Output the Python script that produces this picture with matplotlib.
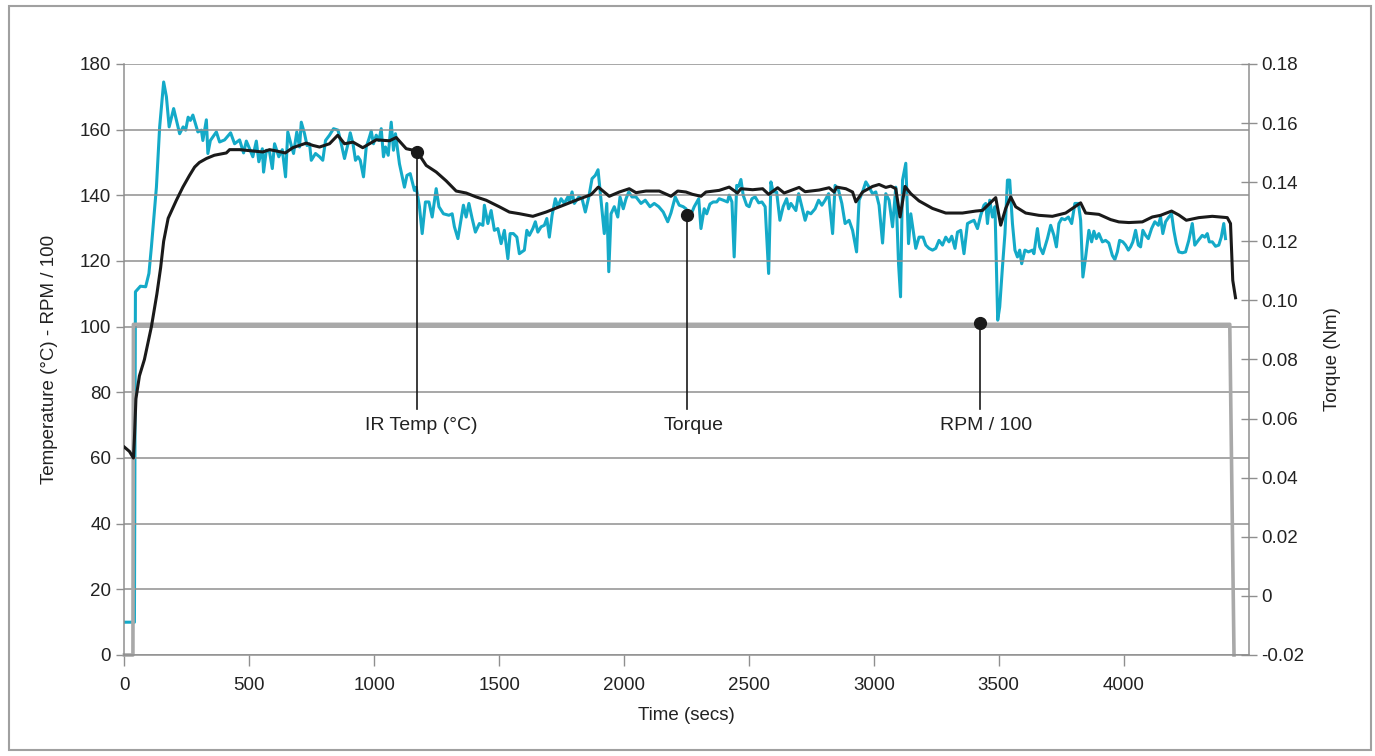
import matplotlib
matplotlib.use("Agg")
import matplotlib.pyplot as plt
from matplotlib.patches import Rectangle

plt.rcParams['font.family'] = ['Liberation Sans', 'DejaVu Sans']

# ---- data ----
# IR temperature (deg C), left axis
temp_time = [0, 20, 36, 40, 46, 60, 80, 108, 130, 145,
             157, 175, 208, 234, 260, 281, 300, 328, 360, 408,
             421, 461, 514, 554, 581, 608, 644, 674, 728, 754,
             781, 821, 854, 881, 915, 954, 981, 1008, 1061, 1088,
             1128, 1170, 1208, 1248, 1288, 1328, 1368, 1408, 1448, 1501,
             1541, 1581, 1635, 1688, 1741, 1808, 1868, 1897, 1941, 1981,
             2021, 2048, 2088, 2141, 2188, 2215, 2248, 2274, 2308, 2328,
             2381, 2421, 2454, 2468, 2515, 2555, 2579, 2615, 2641, 2701,
             2725, 2781, 2821, 2841, 2851, 2888, 2915, 2928, 2955, 2995,
             3021, 3048, 3068, 3088, 3105, 3125, 3148, 3181, 3235, 3288,
             3355, 3408, 3435, 3461, 3488, 3508, 3528, 3548, 3568, 3608,
             3661, 3715, 3768, 3828, 3848, 3901, 3948, 3981, 4021, 4075,
             4115, 4148, 4192, 4221, 4251, 4301, 4355, 4415, 4428, 4437,
             4448]
temp_c = [63.3, 62.0, 60.0, 66.0, 78.0, 85.0, 90.0, 100.0, 110.0, 118.0,
          126.0, 133.0, 138.5, 142.5, 146.0, 148.6, 150.0, 151.2, 152.2, 152.9,
          153.9, 153.9, 153.5, 153.2, 153.9, 153.5, 152.9, 154.5, 155.9, 155.2,
          154.7, 155.7, 158.3, 155.7, 156.2, 154.5, 155.7, 156.9, 156.6, 157.6,
          154.2, 153.5, 149.1, 147.1, 144.4, 141.3, 140.7, 139.5, 138.5, 136.5,
          134.9, 134.4, 133.6, 134.9, 136.5, 138.5, 140.2, 142.5, 139.7, 141.0,
          142.0, 140.8, 141.3, 141.3, 139.7, 141.3, 141.0, 140.3, 139.7, 141.0,
          141.5, 142.5, 140.7, 142.0, 141.7, 142.0, 140.3, 142.3, 140.7, 142.4,
          141.1, 141.6, 142.3, 141.0, 142.5, 142.0, 141.0, 138.0, 141.0, 142.7,
          143.3, 142.4, 142.8, 142.0, 133.4, 142.7, 140.5, 138.3, 136.0, 134.6,
          134.6, 135.2, 135.4, 137.3, 139.3, 130.9, 136.0, 139.5, 136.5, 134.6,
          133.9, 133.6, 134.6, 137.7, 134.6, 134.2, 132.6, 131.9, 131.7, 131.9,
          133.4, 133.9, 135.2, 134.0, 132.4, 133.2, 133.6, 133.2, 131.4, 114.1,
          108.8]

# torque (Nm), right axis
torque_time = [0, 40, 44, 64, 85, 98, 108, 117, 128, 141,
               157, 168, 179, 197, 221, 235, 245, 255, 264, 274,
               294, 308, 314, 328, 334, 344, 368, 381, 401, 425,
               441, 461, 477, 488, 501, 514, 528, 538, 552, 557,
               568, 581, 592, 601, 618, 632, 645, 654, 668, 677,
               690, 701, 708, 721, 731, 741, 748, 765, 781, 794,
               805, 821, 837, 855, 868, 881, 895, 904, 915, 925,
               935, 944, 957, 968, 979, 988, 997, 1008, 1019, 1028,
               1037, 1045, 1056, 1068, 1077, 1085, 1101, 1121, 1131, 1144,
               1161, 1168, 1181, 1192, 1205, 1219, 1232, 1248, 1259, 1277,
               1299, 1312, 1321, 1335, 1348, 1357, 1368, 1379, 1392, 1405,
               1421, 1435, 1441, 1455, 1468, 1481, 1495, 1508, 1521, 1535,
               1544, 1557, 1571, 1581, 1601, 1611, 1621, 1635, 1645, 1655,
               1668, 1681, 1691, 1701, 1712, 1725, 1735, 1748, 1761, 1775,
               1781, 1792, 1801, 1819, 1832, 1845, 1859, 1872, 1885, 1896,
               1908, 1921, 1931, 1939, 1948, 1961, 1975, 1984, 1997, 2008,
               2019, 2032, 2048, 2068, 2085, 2104, 2121, 2139, 2157, 2175,
               2188, 2205, 2221, 2237, 2248, 2264, 2281, 2299, 2308, 2321,
               2331, 2344, 2357, 2371, 2381, 2397, 2414, 2421, 2432, 2441,
               2451, 2459, 2468, 2477, 2491, 2501, 2512, 2525, 2539, 2552,
               2565, 2579, 2588, 2597, 2611, 2624, 2637, 2651, 2659, 2668,
               2677, 2688, 2699, 2712, 2725, 2735, 2748, 2765, 2779, 2792,
               2805, 2819, 2835, 2845, 2859, 2872, 2885, 2901, 2915, 2931,
               2941, 2955, 2968, 2981, 2995, 3008, 3021, 3035, 3048, 3061,
               3075, 3088, 3099, 3107, 3115, 3128, 3139, 3148, 3168, 3181,
               3197, 3208, 3221, 3235, 3248, 3261, 3275, 3288, 3301, 3312,
               3325, 3335, 3348, 3361, 3375, 3388, 3401, 3415, 3428, 3441,
               3448, 3455, 3464, 3475, 3485, 3491, 3496, 3504, 3515, 3525,
               3535, 3544, 3555, 3565, 3575, 3584, 3592, 3605, 3619, 3635,
               3641, 3655, 3664, 3677, 3695, 3708, 3721, 3731, 3741, 3752,
               3765, 3779, 3792, 3805, 3819, 3828, 3837, 3848, 3861, 3872,
               3881, 3891, 3901, 3915, 3928, 3941, 3955, 3965, 3975, 3984,
               3997, 4008, 4019, 4028, 4037, 4048, 4059, 4068, 4077, 4088,
               4099, 4112, 4125, 4139, 4148, 4157, 4168, 4181, 4192, 4201,
               4211, 4221, 4235, 4248, 4261, 4275, 4285, 4299, 4315, 4325,
               4335, 4343, 4355, 4368, 4381, 4391, 4401, 4408]
torque_nm = [-0.0089, -0.0089, 0.1029, 0.1048, 0.1046, 0.1091, 0.1181, 0.1271, 0.1383, 0.1587,
             0.1739, 0.1689, 0.1587, 0.1649, 0.1564, 0.1587, 0.1576, 0.1620, 0.1609, 0.1627,
             0.1570, 0.1576, 0.1541, 0.1611, 0.1497, 0.1541, 0.1570, 0.1536, 0.1543, 0.1567,
             0.1530, 0.1543, 0.1499, 0.1539, 0.1513, 0.1486, 0.1539, 0.1469, 0.1513, 0.1434,
             0.1508, 0.1502, 0.1446, 0.1530, 0.1486, 0.1510, 0.1418, 0.1570, 0.1524, 0.1497,
             0.1570, 0.1519, 0.1603, 0.1564, 0.1524, 0.1530, 0.1474, 0.1497, 0.1486, 0.1474,
             0.1541, 0.1559, 0.1581, 0.1576, 0.1530, 0.1480, 0.1530, 0.1567, 0.1530, 0.1474,
             0.1486, 0.1474, 0.1418, 0.1519, 0.1547, 0.1573, 0.1530, 0.1559, 0.1541, 0.1581,
             0.1486, 0.1519, 0.1491, 0.1603, 0.1508, 0.1564, 0.1462, 0.1383, 0.1423, 0.1429,
             0.1372, 0.1383, 0.1317, 0.1226, 0.1333, 0.1333, 0.1282, 0.1378, 0.1317, 0.1293,
             0.1288, 0.1293, 0.1249, 0.1209, 0.1277, 0.1322, 0.1282, 0.1328, 0.1277, 0.1231,
             0.1260, 0.1254, 0.1322, 0.1260, 0.1304, 0.1237, 0.1243, 0.1192, 0.1237, 0.1141,
             0.1226, 0.1226, 0.1214, 0.1158, 0.1170, 0.1237, 0.1220, 0.1243, 0.1266, 0.1231,
             0.1249, 0.1254, 0.1277, 0.1214, 0.1288, 0.1344, 0.1317, 0.1344, 0.1328, 0.1350,
             0.1333, 0.1367, 0.1328, 0.1350, 0.1344, 0.1299, 0.1350, 0.1412, 0.1423, 0.1442,
             0.1339, 0.1226, 0.1328, 0.1097, 0.1293, 0.1317, 0.1282, 0.1350, 0.1310, 0.1344,
             0.1367, 0.1350, 0.1350, 0.1328, 0.1339, 0.1317, 0.1328, 0.1317, 0.1299, 0.1266,
             0.1296, 0.1350, 0.1322, 0.1317, 0.1310, 0.1282, 0.1317, 0.1344, 0.1243, 0.1310,
             0.1293, 0.1326, 0.1333, 0.1333, 0.1344, 0.1339, 0.1333, 0.1356, 0.1333, 0.1147,
             0.1389, 0.1386, 0.1409, 0.1356, 0.1322, 0.1317, 0.1344, 0.1350, 0.1330, 0.1333,
             0.1317, 0.1091, 0.1401, 0.1367, 0.1367, 0.1271, 0.1317, 0.1344, 0.1310, 0.1328,
             0.1317, 0.1304, 0.1361, 0.1317, 0.1271, 0.1299, 0.1293, 0.1310, 0.1339, 0.1322,
             0.1339, 0.1361, 0.1226, 0.1389, 0.1372, 0.1328, 0.1260, 0.1271, 0.1237, 0.1164,
             0.1339, 0.1367, 0.1401, 0.1383, 0.1361, 0.1367, 0.1322, 0.1194, 0.1361, 0.1339,
             0.1249, 0.1383, 0.1124, 0.1012, 0.1407, 0.1464, 0.1192, 0.1293, 0.1176, 0.1214,
             0.1214, 0.1187, 0.1176, 0.1170, 0.1176, 0.1203, 0.1187, 0.1214, 0.1198, 0.1217,
             0.1176, 0.1231, 0.1237, 0.1158, 0.1260, 0.1266, 0.1271, 0.1243, 0.1288, 0.1322,
             0.1328, 0.1260, 0.1339, 0.1282, 0.1317, 0.1113, 0.0933, 0.0978, 0.1113, 0.1226,
             0.1407, 0.1407, 0.1260, 0.1170, 0.1147, 0.1170, 0.1124, 0.1170, 0.1164, 0.1170,
             0.1158, 0.1243, 0.1181, 0.1158, 0.1209, 0.1254, 0.1220, 0.1181, 0.1260, 0.1277,
             0.1273, 0.1282, 0.1260, 0.1328, 0.1328, 0.1271, 0.1079, 0.1147, 0.1237, 0.1198,
             0.1234, 0.1209, 0.1226, 0.1198, 0.1203, 0.1194, 0.1152, 0.1138, 0.1164, 0.1203,
             0.1198, 0.1187, 0.1170, 0.1181, 0.1198, 0.1237, 0.1187, 0.1181, 0.1237, 0.1220,
             0.1209, 0.1243, 0.1266, 0.1254, 0.1282, 0.1226, 0.1266, 0.1282, 0.1293, 0.1237,
             0.1192, 0.1164, 0.1161, 0.1164, 0.1203, 0.1260, 0.1187, 0.1203, 0.1220, 0.1214,
             0.1226, 0.1198, 0.1198, 0.1183, 0.1187, 0.1214, 0.1260, 0.1209]

# spindle speed (RPM / 100), left axis
rpm_time = [0, 34, 36, 4425, 4442]
rpm_div100 = [0, 0, 100.7, 100.7, 0]

# callouts: label, time, value on left axis, label x
callout_labels = ['IR Temp (°C)', 'Torque', 'RPM / 100']
callout_time = [1170, 2253, 3425]
callout_value = [153.3, 133.9, 101.0]
callout_text_x = [1190, 2278, 3450]

CYAN = '#14aac8'
BLACK = '#1a1a1a'
GREY = '#a9a9a9'
AXIS_GREY = '#8f8f8f'

fig = plt.figure(figsize=(13.75, 7.56), dpi=100)
ax = fig.add_axes([0.0905, 0.1336, 0.8175, 0.7818])
ax2 = ax.twinx()

# left axis
ax.set_xlim(0, 4500)
ax.set_ylim(0, 180)
ax.set_yticks(range(0, 181, 20))
ax.set_xticks(range(0, 4001, 500))
ax.grid(axis='y', color=AXIS_GREY, linewidth=1.1)
ax.set_axisbelow(True)
for side in ['top', 'right']:
    ax.spines[side].set_visible(False)
for side in ['left', 'bottom']:
    ax.spines[side].set_color(AXIS_GREY)
    ax.spines[side].set_linewidth(1.1)
ax.tick_params(axis='both', colors=AXIS_GREY, labelcolor='#222222',
               labelsize=13.5, length=6, width=1)
ax.tick_params(axis='x', pad=8, length=8)
ax.set_xlabel('Time (secs)', fontsize=13.5, color='#222222', labelpad=9)
ax.set_ylabel('Temperature (°C) - RPM / 100', fontsize=13.5, color='#222222', labelpad=16)

# right axis
ax2.set_ylim(-0.02, 0.18)
r_ticks = [-0.02, 0, 0.02, 0.04, 0.06, 0.08, 0.10, 0.12, 0.14, 0.16, 0.18]
ax2.set_yticks(r_ticks)
ax2.set_yticklabels(['-0.02', '0', '0.02', '0.04', '0.06', '0.08', '0.10',
                     '0.12', '0.14', '0.16', '0.18'])
for side in ['top', 'left', 'bottom']:
    ax2.spines[side].set_visible(False)
ax2.spines['right'].set_color(AXIS_GREY)
ax2.spines['right'].set_linewidth(1.1)
ax2.tick_params(axis='y', direction='inout', length=12, width=1, colors=AXIS_GREY,
                labelcolor='#222222', labelsize=13.5, pad=3)
ax2.set_ylabel('Torque (Nm)', fontsize=13.5, color='#222222', labelpad=14)

# series
ax.plot(rpm_time, rpm_div100, color=GREY, linewidth=2.6, zorder=2, clip_on=False)
ax2.plot(torque_time, torque_nm, color=CYAN, linewidth=2.2, zorder=3)
ax.plot(temp_time, temp_c, color=BLACK, linewidth=2.2, zorder=4)
ax.set_zorder(ax2.get_zorder() + 1)
ax.patch.set_visible(False)

# callouts
for lab, tx, vy, lx in zip(callout_labels, callout_time, callout_value, callout_text_x):
    ax.plot([tx, tx], [vy, 75], color=BLACK, linewidth=1.2, zorder=5)
    ax.plot([tx], [vy], 'o', color=BLACK, markersize=8.5, zorder=6)
    ax.text(lx, 70, lab, ha='center', va='center', fontsize=14, color='#222222')

# outer frame
fig.patches.append(Rectangle((0.0065, 0.008), 0.9905, 0.984, transform=fig.transFigure,
                             fill=False, edgecolor='#a0a0a0', linewidth=1.5))

fig.savefig('out.png', dpi=100)
